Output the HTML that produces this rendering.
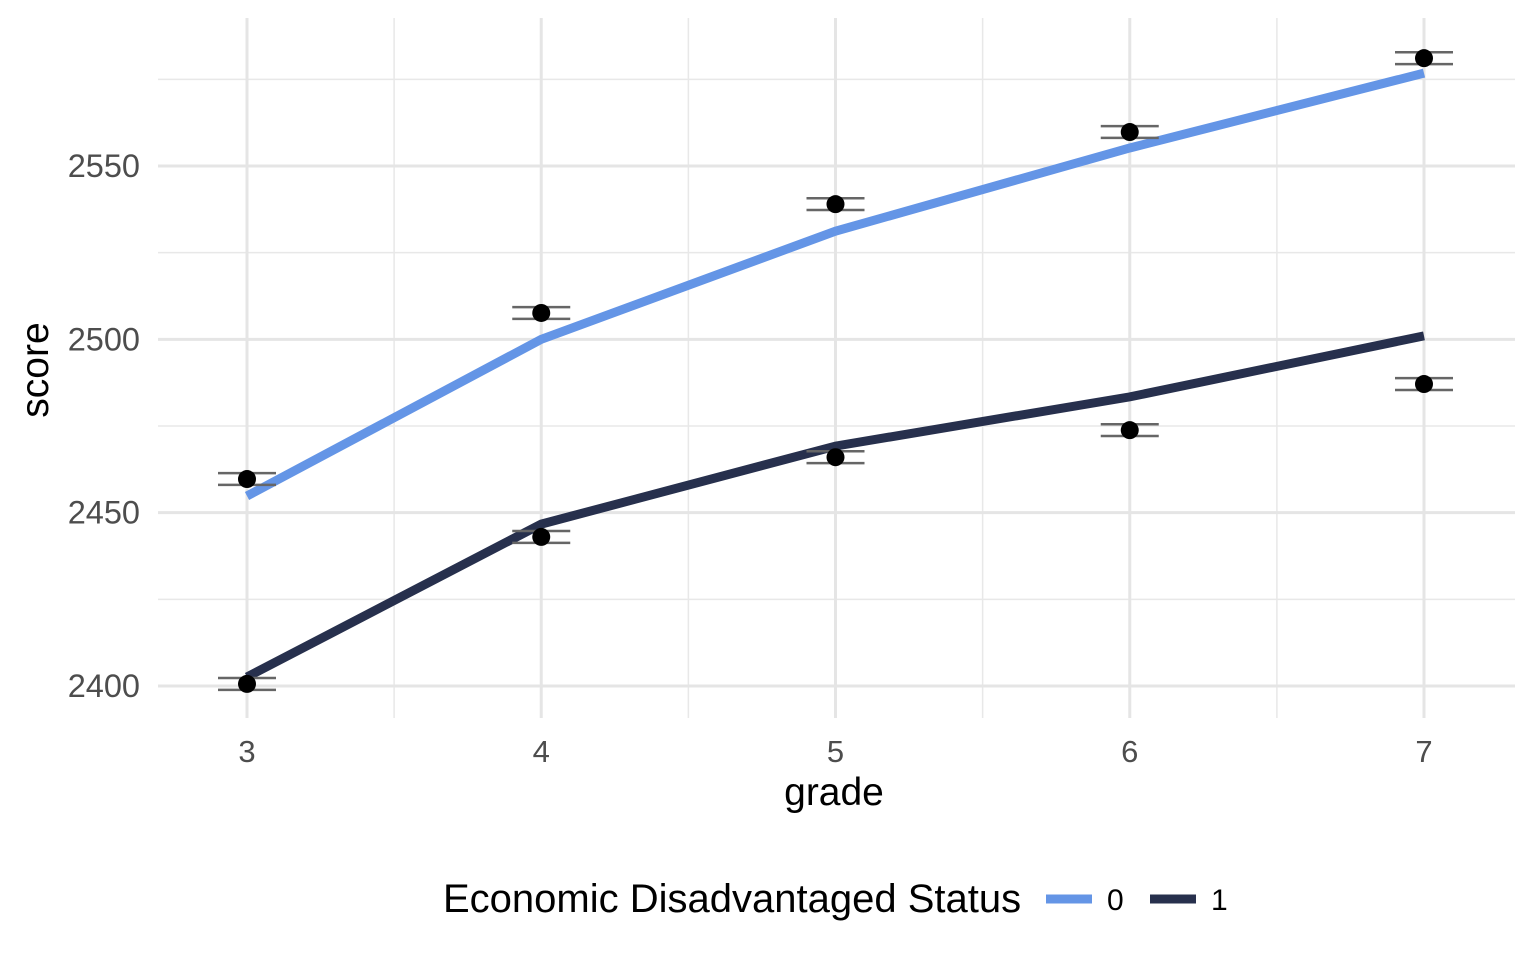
<!DOCTYPE html>
<html><head><meta charset="utf-8"><style>
html,body{margin:0;padding:0;background:#fff;}
svg{display:block;font-family:"Liberation Sans",Arial,sans-serif;}
</style></head><body>
<svg id="chart" width="1536" height="960">
<g id="grid"></g>
<g id="marks"></g>
<g id="axes"></g>
<text x="834" y="805" font-size="39" text-anchor="middle" fill="#000">grade</text>
<text transform="translate(48,370) rotate(-90)" font-size="39" text-anchor="middle" fill="#000">score</text>
<g>
<text x="443" y="912" font-size="40" fill="#000">Economic Disadvantaged Status</text>
<line x1="1046" y1="899" x2="1092" y2="899" stroke="#6495e6" stroke-width="9"/>
<text x="1107" y="910" font-size="30" fill="#000">0</text>
<line x1="1150" y1="899" x2="1196" y2="899" stroke="#27304d" stroke-width="9"/>
<text x="1211" y="910" font-size="30" fill="#000">1</text>
</g>
</svg>
<script>
const grades=[3,4,5,6,7];
const fit0=[2454.8,2500,2531.2,2555.2,2576.8];
const fit1=[2402.6,2446.7,2469.2,2483.4,2501];
const mean0=[2459.7,2507.6,2539.0,2559.8,2581.1];
const mean1=[2400.6,2443,2466,2473.8,2487.1];
const err0=[1.7,1.7,1.7,1.7,1.7];
const err1=[1.7,1.7,1.7,1.7,1.7];
const yTicks=[2400,2450,2500,2550];
const yMinor=[2425,2475,2525,2575];
const xTicks=[3,4,5,6,7];
const xMinor=[3.5,4.5,5.5,6.5];
const NS='http://www.w3.org/2000/svg';
const xs=g=>247+(g-3)*294.25;
const ys=v=>686-(v-2400)*3.4667;
const L=158,R=1515,T=18,B=718;
function mk(par,tag,attrs){const e=document.createElementNS(NS,tag);for(const k in attrs)e.setAttribute(k,attrs[k]);par.appendChild(e);return e;}
const grid=document.getElementById('grid'),marks=document.getElementById('marks'),axes=document.getElementById('axes');
yMinor.forEach(v=>{const e=mk(grid,'line',{x1:L,x2:R,y1:ys(v),y2:ys(v),stroke:'#e8e8e8','stroke-width':1.5});

});
xMinor.forEach(v=>{const e=mk(grid,'line',{x1:xs(v),x2:xs(v),y1:T,y2:B,stroke:'#e8e8e8','stroke-width':1.5});

});
yTicks.forEach(v=>{const e=mk(grid,'line',{x1:L,x2:R,y1:ys(v),y2:ys(v),stroke:'#e5e5e5','stroke-width':3});


const t=mk(axes,'text',{x:140,y:ys(v)+11,'font-size':32.5,'text-anchor':'end',fill:'#4d4d4d'});t.textContent=v;

});
xTicks.forEach(v=>{const e=mk(grid,'line',{x1:xs(v),x2:xs(v),y1:T,y2:B,stroke:'#e5e5e5','stroke-width':3});


const t=mk(axes,'text',{x:xs(v),y:762,'font-size':31,'text-anchor':'middle',fill:'#4d4d4d'});t.textContent=v;

});
function series(fit,mean,err,color,id){
const p=mk(marks,'polyline',{points:grades.map((g,i)=>xs(g)+','+ys(fit[i])).join(' '),fill:'none',stroke:color,'stroke-width':9});


grades.forEach((g,i)=>{const x=xs(g),lo=ys(mean[i]-err[i]),hi=ys(mean[i]+err[i]);
const eb=mk(marks,'path',{d:`M${x-29},${hi}H${x+29}M${x},${hi}V${lo}M${x-29},${lo}H${x+29}`,stroke:'#666','stroke-width':2.5,fill:'none'});

});
grades.forEach((g,i)=>{const c=mk(marks,'circle',{cx:xs(g),cy:ys(mean[i]),r:9,fill:'#000'});

});
}
series(fit0,mean0,err0,'#6495e6','0');
series(fit1,mean1,err1,'#27304d','1');
</script>
</body></html>
